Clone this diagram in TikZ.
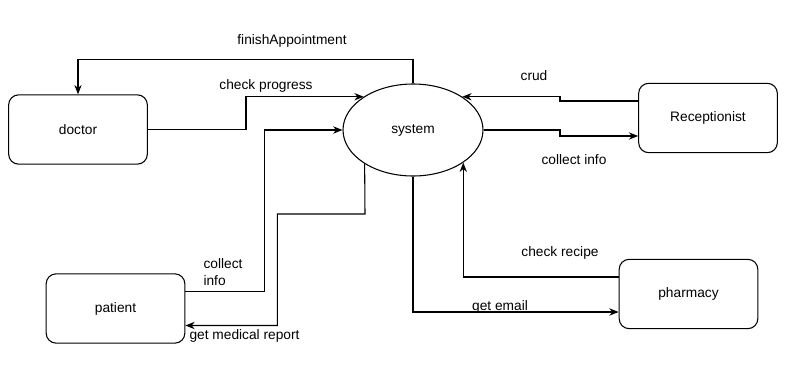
\documentclass[tikz,border=0pt]{standalone}
\usepackage{fontspec}
\setmainfont{Liberation Sans}
\usetikzlibrary{shapes.geometric,arrows.meta,calc}

\tikzset{
  actor/.style={draw, rounded corners=7.5pt, minimum width=104pt, minimum height=52pt, inner sep=0pt},
  proc/.style={draw, ellipse, minimum width=105pt, minimum height=69pt, inner sep=0pt},
  flow/.style={-{Stealth[length=7pt,width=5.5pt]}},
  lbl/.style={inner sep=0pt, align=left}
}

\begin{document}
\begin{tikzpicture}[x=0.75pt, y=-0.75pt, line width=0.8pt, font=\fontsize{10.3}{12.5}\selectfont]
  \useasboundingbox (0,0) rectangle (791,385);

  \node[proc]  (system) at (413,130) {system};
  \node[actor] (doctor) at (78,129.5) {doctor};
  \node[actor] (recep)  at (708,118) {Receptionist};
  \node[actor] (patient) at (115.5,308.5) {patient};
  \node[actor] (pharm)  at (688.5,294) {pharmacy};

  % doctor <-> system
  \draw[flow] (system.north) -- ++(0,-24) -| (doctor.north);
  \draw[flow] (doctor.east) -- (246,129.5) |- (system.146);
  \node[lbl] (lblfinish) at (292,41) {finishAppointment};
  \node[lbl] (lblprogress) at (266,86) {check progress};

  % patient <-> system
  \draw[flow] ($(patient.east)+(0,-17)$) -| ($(system.west)+(-78,0)$) -- (system.west);
  \draw[flow] (system.215) -- (365,214) -| ($(patient.east)+(92,17)$) -- ($(patient.east)+(0,17)$);
  \node[lbl, anchor=west] (lblcollect) at (203,272) {collect\\info};
  \node[lbl, anchor=west] (lblreport) at (189,336) {get medical report};

  % receptionist <-> system
  \draw[flow] ($(recep.west)+(0,-17)$) -- (560,101) |- (system.34);
  \draw[flow] (system.east) -- (560,130) |- ($(recep.west)+(0,18)$);
  \node[lbl] (lblcrud) at (534,76) {crud};
  \node[lbl] (lblinfo) at (574,160) {collect info};

  % pharmacy <-> system
  \draw[flow] ($(pharm.west)+(0,-17)$) -| (system.-33);
  \draw[flow] (system.south) |- ($(pharm.west)+(0,18)$);
  \node[lbl] (lblrecipe) at (560,253) {check recipe};
  \node[lbl] (lblemail) at (500,307) {get email};
\end{tikzpicture}
\end{document}
